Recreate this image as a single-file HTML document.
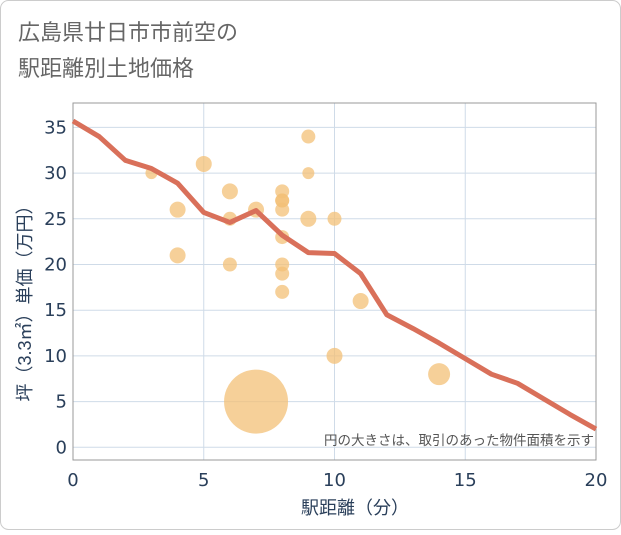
<!DOCTYPE html>
<html><head><meta charset="utf-8"><style>
body{margin:0;background:#fff;}
svg text{font-family:"Liberation Sans","Noto Sans CJK JP",sans-serif;}
svg text.tick{font-family:"DejaVu Sans","Liberation Sans",sans-serif;}
</style></head><body>
<svg width="621" height="530">
<rect x="0.5" y="0.5" width="620" height="529" rx="8" fill="#fff" stroke="#ccc"/>
<text x="18" y="40" font-size="22" fill="#666">広島県廿日市市前空の</text>
<text x="18" y="76" font-size="22" fill="#666">駅距離別土地価格</text>
<g id="plot"></g>
</svg>
<script>
const xTicks=[0,5,10,15,20];
const yTicks=[0,5,10,15,20,25,30,35];
const lineX=[0,1,2,3,4,5,6,7,8,9,10,11,12,13,14,15,16,17,18,19,20];
const lineY=[35.7,34,31.4,30.5,28.9,25.7,24.6,25.9,23.2,21.3,21.2,19,14.5,13,11.4,9.7,8,7,5.3,3.6,2];
const ptX=[3,4,4,5,6,6,6,7,7,8,8,8,8,8,8,8,8,9,9,9,10,10,11,14];
const ptY=[30,26,21,31,28,25,20,26,5,28,27,27,26,23,20,19,17,34,30,25,25,10,16,8];
const ptR=[6,8,8,8,8,7,7,8,32,7,7,7,7,7,7,7,7,7,6,8,7,8,8,11];
const NS='http://www.w3.org/2000/svg';
const L=73,R=596,T=103,B=460;
const sx=v=>L+(R-L)*v/20;
const sy=v=>447.3-v*9.14;
const g=document.getElementById('plot');
function mk(t,a){const e=document.createElementNS(NS,t);for(const k in a)e.setAttribute(k,a[k]);g.appendChild(e);return e;}
let e=mk('rect',{x:L,y:T,width:R-L,height:B-T,fill:'#fff'});


yTicks.forEach(v=>{
 let l=mk('line',{x1:L,x2:R,y1:sy(v),y2:sy(v),stroke:'#cfdbe8','stroke-width':1});
 
 
 let t=mk('text',{x:L-6,y:sy(v)+6,'text-anchor':'end','font-size':18,fill:'#2a3f5a','class':'tick'});t.textContent=v;
 
 
});
xTicks.forEach(v=>{
 let l=mk('line',{x1:sx(v),x2:sx(v),y1:T,y2:B,stroke:'#cfdbe8','stroke-width':1});
 
 
 let t=mk('text',{x:sx(v),y:B+26,'text-anchor':'middle','font-size':18,fill:'#2a3f5a','class':'tick'});t.textContent=v;
 
 
});
e=mk('rect',{x:L,y:T,width:R-L,height:B-T,fill:'none',stroke:'#999'});


ptX.forEach((x,i)=>{
 let c=mk('circle',{cx:sx(x),cy:sy(ptY[i]),r:ptR[i],fill:'#f3c077','fill-opacity':0.75});
 
 
});
let p=mk('polyline',{points:lineX.map((x,i)=>sx(x)+','+sy(lineY[i])).join(' '),fill:'none',stroke:'#d9705a','stroke-width':5,'stroke-linejoin':'round'});


let n=mk('text',{x:R-2,y:445,'text-anchor':'end','font-size':13.5,fill:'#555'});n.textContent='円の大きさは、取引のあった物件面積を示す';


let xt=mk('text',{x:355,y:514,'text-anchor':'middle','font-size':18,fill:'#2a3f5a'});xt.textContent='駅距離（分）';


let yt=mk('text',{x:0,y:0,'text-anchor':'middle','font-size':18,fill:'#2a3f5a',transform:'translate(31,299) rotate(-90)'});yt.textContent='坪（3.3㎡）単価（万円）';


</script>
</body></html>
